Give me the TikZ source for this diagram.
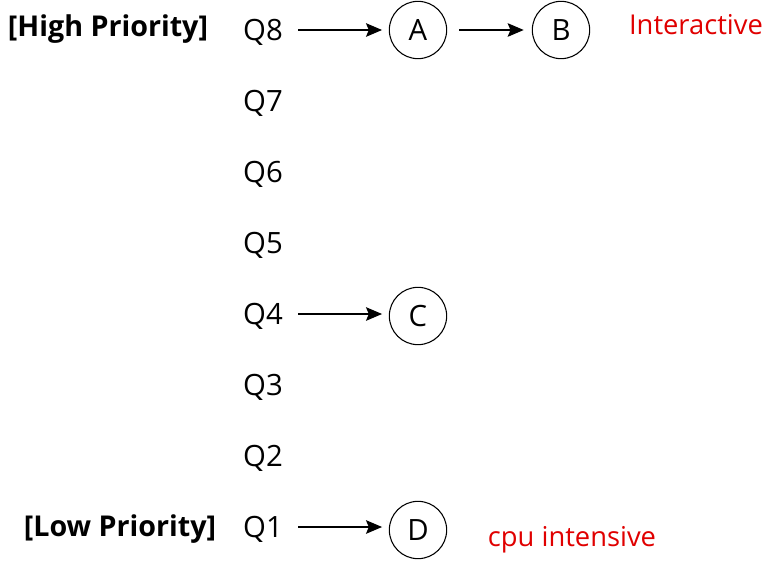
\documentclass[tikz,border=0pt]{standalone}
\usepackage{fontspec}
\setmainfont{Open Sans}
\usepackage{tikz}
\usetikzlibrary{arrows.meta,positioning}
\definecolor{qred}{HTML}{E00000}

\begin{document}
\begin{tikzpicture}[x=0.75pt,y=-0.75pt,
  qlabel/.style={font=\fontsize{22}{24}\selectfont, inner sep=0pt, anchor=base},
  prio/.style={font=\fontsize{21.5}{24}\selectfont\bfseries, inner sep=0pt, anchor=base},
  proc/.style={draw, circle, minimum size=43pt, inner sep=0pt, line width=0.8pt,
    font=\fontsize{22}{24}\selectfont},
  note/.style={font=\fontsize{20.5}{22}\selectfont\color{qred}, inner sep=0pt, anchor=base},
  arr/.style={-{Stealth[length=12pt,width=10pt,inset=2pt]}, line width=1.8pt},
]
\useasboundingbox (0,0) rectangle (783,568);
% queue levels, Q8 on top
\foreach \i/\y in {8/30,7/101,6/172,5/243,4/314,3/385,2/456,1/527} {
  \node[qlabel] (q\i) at (263,\y+10) {Q\i};
  \coordinate (r\i) at (298,\y);
}
\node[prio] (high) at (108,36) {[High Priority]};
\node[prio] (low) at (120,536) {[Low Priority]};

% processes
\node[proc] (A) at (418,30) {A};
\node[proc] (B) at (561,30) {B};
\node[proc] (C) at (418,316) {C};
\node[proc] (D) at (418,530) {D};

\draw[arr, shorten >=5pt] (r8) -- (A);
\draw[arr, shorten <=9pt, shorten >=6pt] (A) -- (B);
\draw[arr, shorten >=5pt] (r4) -- (r4 -| C.west);
\draw[arr, shorten >=5pt] (r1) -- (r1 -| D.west);

\node[note] (inter) at (696,34) {Interactive};
\node[note] (cpu) at (572,546) {cpu intensive};
\end{tikzpicture}
\end{document}
